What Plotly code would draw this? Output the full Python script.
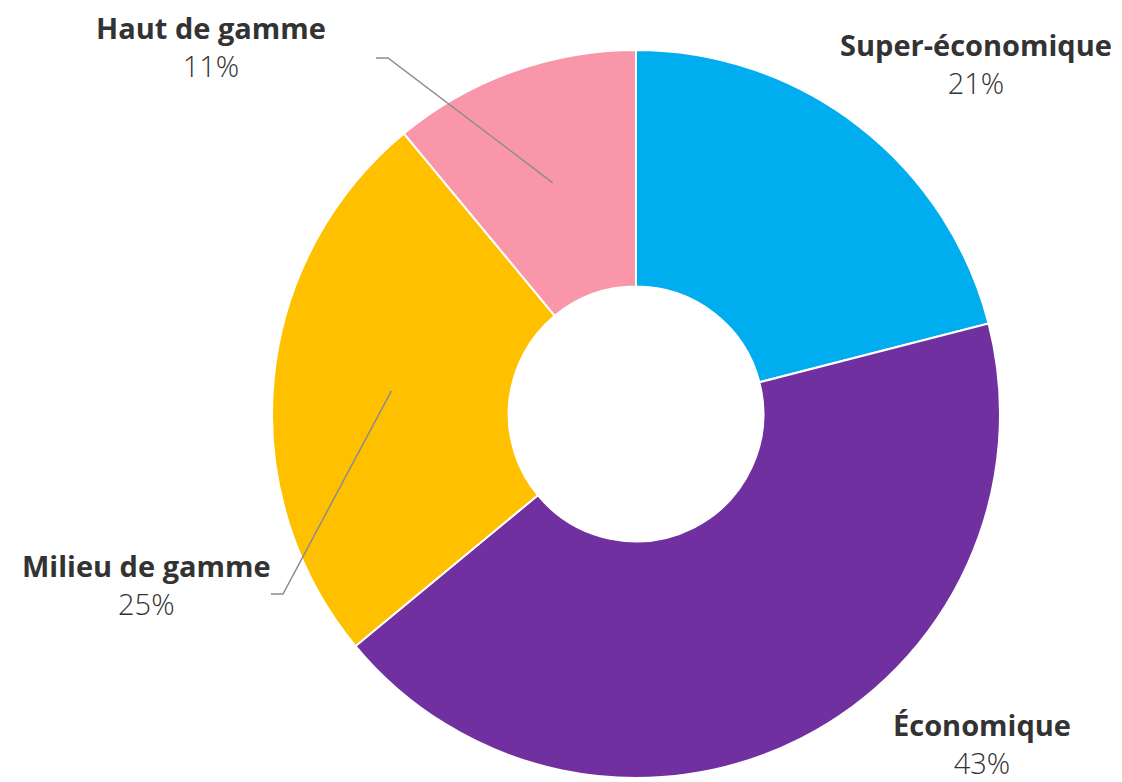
import math
import plotly.graph_objects as go

# ---- data ----
labels = ["Super-économique", "Économique", "Milieu de gamme", "Haut de gamme"]
values = [21, 43, 25, 11]
colors = ["#00AEEF", "#7030A0", "#FFC000", "#FA96AA"]

OFF = 8  # page body margin
W, H = 1122 - OFF, 782 - OFF
CX, CY, R = 636 - OFF, 414 - OFF, 364
HOLE = 0.35
FONT = "'Open Sans', 'Noto Sans', sans-serif"

fig = go.Figure(go.Pie(
    labels=labels, values=values, sort=False, direction="clockwise", rotation=0,
    hole=HOLE, textinfo="none", hoverinfo="label+percent",
    marker=dict(colors=colors, line=dict(color="white", width=2)),
    domain=dict(x=[(CX - R) / W, (CX + R) / W], y=[(H - CY - R) / H, (H - CY + R) / H]),
    showlegend=False,
))

def px(x):
    return (x - OFF) / W

def py(y):
    return 1 - (y - OFF) / H

# label block centres (layout, reference pixels)
label_pos = {
    "Super-économique": (976, 64),
    "Économique": (982, 743),
    "Milieu de gamme": (146, 584),
    "Haut de gamme": (211, 46),
}
# leader lines: elbow x,y and end x (reference pixels)
leaders = {
    "Milieu de gamme": (283, 594, 271),
    "Haut de gamme": (388, 58, 376),
}

total = sum(values)
cum = 0
annotations = []
shapes = []
for lab, v in zip(labels, values):
    mid = (cum + v / 2) / total
    cum += v
    nx, ny = label_pos[lab]
    pct = f"{round(v / total * 100)}%"
    annotations.append(dict(x=px(nx), y=py(ny), xref="paper", yref="paper",
                            text=f"{lab}<br><span style='font-weight:300'>{pct}</span>",
                            showarrow=False, xanchor="center", yanchor="middle", align="center",
                            borderpad=0,
                            font=dict(family=FONT, size=29, color="#333333", weight=700)))
    if lab in leaders:
        ang = mid * 2 * math.pi
        rr = R * (1 + HOLE) / 2
        sx = CX + OFF + rr * math.sin(ang)
        sy = CY + OFF - rr * math.cos(ang)
        ex, ey, endx = leaders[lab]
        shapes.append(dict(type="path", xref="paper", yref="paper",
                           path=f"M {px(sx)} {py(sy)} L {px(ex)} {py(ey)} L {px(endx)} {py(ey)}",
                           line=dict(color="#8C8C8C", width=1.5)))

fig.update_layout(
    width=W, height=H, margin=dict(l=0, r=0, t=0, b=0),
    paper_bgcolor="white", plot_bgcolor="white",
    annotations=annotations, shapes=shapes,
)
fig.write_html("out.html")
